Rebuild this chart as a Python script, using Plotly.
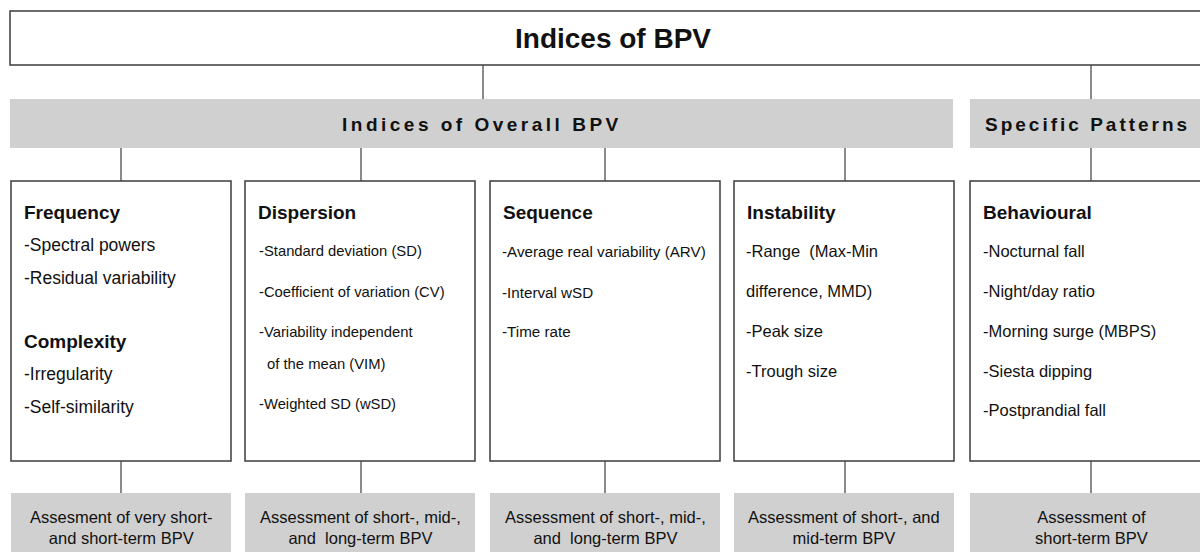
import plotly.graph_objects as go

# ---- content ----
title_text = "Indices of BPV"
group_labels = ["Indices of Overall BPV", "Specific Patterns"]
category_titles = ["Frequency", "Dispersion", "Sequence", "Instability", "Behavioural"]
box1_items = ["-Spectral powers", "-Residual variability"]
box1_second_title = "Complexity"
box1_second_items = ["-Irregularity", "-Self-similarity"]
box2_items = ["-Standard deviation (SD)", "-Coefficient of variation (CV)",
              "-Variability independent", "  of the mean (VIM)", "-Weighted SD (wSD)"]
box3_items = ["-Average real variability (ARV)", "-Interval wSD", "-Time rate"]
box4_items = ["-Range  (Max-Min", "difference, MMD)", "-Peak size", "-Trough size"]
box5_items = ["-Nocturnal fall", "-Night/day ratio", "-Morning surge (MBPS)",
              "-Siesta dipping", "-Postprandial fall"]
assessments = ["Assesment of very short-<br>and short-term BPV",
               "Assessment of short-, mid-,<br>and  long-term BPV",
               "Assessment of short-, mid-,<br>and  long-term BPV",
               "Assessment of short-, and<br>mid-term BPV",
               "Assessment of<br>short-term BPV"]

# ---- layout geometry ----
box_x0 = [11, 245, 490, 734, 970]
box_x1 = [231, 475, 720, 954, 1215]
conn_x = [121, 361, 605, 845, 1091]
FONT = "Liberation Sans, Arial, sans-serif"
EDGE = "#3c3c3c"
GRAY = "#d0d0d0"

shapes = []
annotations = []

def rect(x0, y0, x1, y1, fill="white", line=EDGE, lw=1.5):
    shapes.append(dict(type="rect", xref="x", yref="y", x0=x0, y0=y0, x1=x1, y1=y1,
                       fillcolor=fill, line=dict(color=line, width=lw), layer="below"))

def vline(x, y0, y1):
    shapes.append(dict(type="line", xref="x", yref="y", x0=x, x1=x, y0=y0, y1=y1,
                       line=dict(color=EDGE, width=1.2), layer="below"))

def text(x, y, s, size, bold=False, anchor="left", color="#111"):
    if bold:
        s = "<b>" + s + "</b>"
    annotations.append(dict(x=x, y=y, xref="x", yref="y", text=s, showarrow=False,
                            xanchor=anchor, yanchor="middle",
                            font=dict(family=FONT, size=size, color=color)))

# top box
rect(10, 11, 1215, 65)
text(613, 38, title_text, 28, bold=True, anchor="center")
vline(483, 65, 99)
vline(1091, 65, 99)

# group bars
rect(10, 99, 953, 148, fill=GRAY, line=GRAY, lw=0)
rect(970, 99, 1215, 148, fill=GRAY, line=GRAY, lw=0)
text(482, 124, '<span style="letter-spacing:3.5px">' + group_labels[0] + '</span>', 19, bold=True, anchor="center")
text(983, 124, '<span style="letter-spacing:3px">' + group_labels[1] + '</span>', 19, bold=True, anchor="left")

# connectors and boxes
for i in range(5):
    vline(conn_x[i], 148, 181)
    rect(box_x0[i], 181, box_x1[i], 461)
    vline(conn_x[i], 461, 493)
    rect(box_x0[i], 493, box_x1[i], 560, fill=GRAY, line=GRAY, lw=0)
    cx = (box_x0[i] + box_x1[i]) / 2 if i < 4 else 1091
    annotations.append(dict(x=cx, y=527, xref="x", yref="y", text=assessments[i],
                            showarrow=False, xanchor="center", yanchor="middle",
                            font=dict(family=FONT, size=16.5, color="#111")))

# box titles
for i in range(5):
    text(box_x0[i] + 11, 212, category_titles[i], 19, bold=True)

# box 1
for s, y in zip(box1_items, [245, 278]):
    text(22, y, s, 17.5)
text(22, 341, box1_second_title, 19, bold=True)
for s, y in zip(box1_second_items, [374, 407]):
    text(22, y, s, 17.5)

# box 2
for s, y in zip(box2_items, [251, 292, 332, 364, 404]):
    if s.startswith("  "):
        text(265, y, s.strip(), 14.8)
    else:
        text(257, y, s, 14.8)

# box 3
for s, y in zip(box3_items, [251, 292, 331]):
    text(500, y, s, 15.2)

# box 4
for s, y in zip(box4_items, [251, 291, 331, 371]):
    text(744, y, s, 16.5)

# box 5
for s, y in zip(box5_items, [251, 291, 331, 371, 410]):
    text(981, y, s, 16.5)

fig = go.Figure()
fig.update_layout(
    width=1200, height=552,
    margin=dict(l=0, r=0, t=0, b=0),
    paper_bgcolor="white", plot_bgcolor="white",
    xaxis=dict(range=[0, 1200], visible=False, fixedrange=True),
    yaxis=dict(range=[552, 0], visible=False, fixedrange=True),
    shapes=shapes, annotations=annotations, showlegend=False,
)
fig.write_html("out.html", config={"displayModeBar": False},
               post_script="document.body.style.margin='0';document.body.style.overflow='hidden';")
